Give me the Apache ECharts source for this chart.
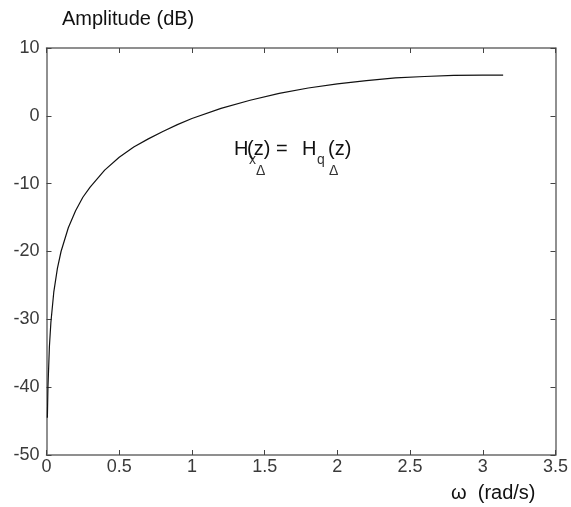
<!DOCTYPE html>
<html>
<head>
<meta charset="utf-8">
<script src="https://cdn.jsdelivr.net/npm/echarts@6/dist/echarts.min.js"></script>
<style>html,body{margin:0;padding:0;background:#fff}#c{width:571px;height:507px}</style>
</head>
<body>
<div id="c"></div>
<script>
// Frequency (rad/s) and amplitude (dB)
var omega = [0.006, 0.01, 0.02, 0.03, 0.05, 0.075, 0.1, 0.15, 0.2, 0.25, 0.3, 0.4, 0.5, 0.6, 0.7, 0.8, 0.9, 1.0, 1.2, 1.4, 1.6, 1.8, 2.0, 2.2, 2.4, 2.6, 2.8, 3.0, 3.14];
var amplitudeDb = [-44.5, -40, -34, -30.5, -26, -22.5, -20, -16.5, -14, -12, -10.5, -8, -6.1, -4.6, -3.4, -2.3, -1.3, -0.4, 1.1, 2.3, 3.3, 4.1, 4.7, 5.2, 5.6, 5.8, 5.95, 6.0, 6.0];
var xTicks = [0, 0.5, 1, 1.5, 2, 2.5, 3, 3.5];
var yTicks = [-50, -40, -30, -20, -10, 0, 10];

var FONT = "'Liberation Sans', Arial, Helvetica, sans-serif";
var chart = echarts.init(document.getElementById('c'), null, {renderer: 'canvas'});
var data = omega.map(function (w, i) { return [w, amplitudeDb[i]]; });
var axisLineStyle = {color: '#6b6b6b', width: 1.5};
var tickStyle = {show: true, inside: true, length: 5, lineStyle: {color: '#444', width: 1}};

chart.setOption({
  animation: false,
  backgroundColor: '#fff',
  grid: {left: 46.5, right: 11.5, top: 48, bottom: 52, containLabel: false},
  xAxis: [{
    type: 'value', min: xTicks[0], max: xTicks[xTicks.length - 1], interval: 0.5,
    position: 'bottom',
    axisLine: {show: true, onZero: false, lineStyle: axisLineStyle},
    axisTick: tickStyle,
    axisLabel: {color: '#3a3a3a', fontSize: 18, fontFamily: FONT, margin: 3},
    splitLine: {show: false}
  }, {
    type: 'value', min: xTicks[0], max: xTicks[xTicks.length - 1], interval: 0.5,
    position: 'top',
    axisLine: {show: true, onZero: false, lineStyle: axisLineStyle},
    axisTick: tickStyle,
    axisLabel: {show: false},
    splitLine: {show: false}
  }],
  yAxis: [{
    type: 'value', min: yTicks[0], max: yTicks[yTicks.length - 1], interval: 10,
    position: 'left',
    axisLine: {show: true, onZero: false, lineStyle: axisLineStyle},
    axisTick: tickStyle,
    axisLabel: {color: '#3a3a3a', fontSize: 18, fontFamily: FONT, margin: 7},
    splitLine: {show: false}
  }, {
    type: 'value', min: yTicks[0], max: yTicks[yTicks.length - 1], interval: 10,
    position: 'right',
    axisLine: {show: true, onZero: false, lineStyle: axisLineStyle},
    axisTick: tickStyle,
    axisLabel: {show: false},
    splitLine: {show: false}
  }],
  series: [{
    type: 'line',
    data: data,
    xAxisIndex: 0, yAxisIndex: 0,
    showSymbol: false,
    smooth: false,
    lineStyle: {color: '#111', width: 1.2}
  }],
  graphic: [
    {type: 'text', left: 62, top: 9, style: {text: 'Amplitude (dB)', fontSize: 20, fontFamily: FONT, fill: '#111'}},
    {type: 'text', left: 451, top: 483, style: {text: 'ω  (rad/s)', fontSize: 20, fontFamily: FONT, fill: '#111'}},
    {type: 'text', left: 234, top: 139, style: {text: 'H', fontSize: 20, fontFamily: FONT, fill: '#111'}},
    {type: 'text', left: 249, top: 153, style: {text: 'x', fontSize: 14, fontFamily: FONT, fill: '#333'}},
    {type: 'text', left: 256, top: 164, style: {text: 'Δ', fontSize: 14, fontFamily: FONT, fill: '#333'}},
    {type: 'text', left: 247, top: 139, style: {text: '(z) =', fontSize: 20, fontFamily: FONT, fill: '#111'}},
    {type: 'text', left: 302, top: 139, style: {text: 'H', fontSize: 20, fontFamily: FONT, fill: '#111'}},
    {type: 'text', left: 317, top: 153, style: {text: 'q', fontSize: 14, fontFamily: FONT, fill: '#333'}},
    {type: 'text', left: 329, top: 164, style: {text: 'Δ', fontSize: 14, fontFamily: FONT, fill: '#333'}},
    {type: 'text', left: 328, top: 139, style: {text: '(z)', fontSize: 20, fontFamily: FONT, fill: '#111'}}
  ]
});
</script>
</body>
</html>
